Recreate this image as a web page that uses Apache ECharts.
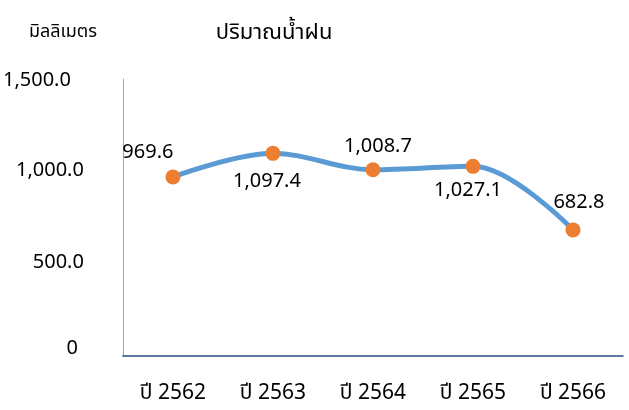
<!DOCTYPE html>
<html><head><meta charset="utf-8">
<script src="https://cdn.jsdelivr.net/npm/echarts@6/dist/echarts.min.js"></script>
<style>html,body{margin:0;padding:0;background:#fff}#c{width:629px;height:410px}</style>
</head><body><div id="c"></div>
<script>
const categories = ['ปี 2562','ปี 2563','ปี 2564','ปี 2565','ปี 2566'];
const rainfall = [969.6, 1097.4, 1008.7, 1027.1, 682.8];
const yTicks = [0, 500, 1000, 1500];
const titleText = 'ปริมาณน้ำฝน';
const unitText = 'มิลลิเมตร';
// label placement style per point
const labelStyles = [
  {position:'top', offset:[-25,5]},
  {position:'bottom', offset:[-6,-2]},
  {position:'top', offset:[5,6]},
  {position:'bottom', offset:[-5,-6]},
  {position:'top', offset:[6,2]}
];
const FONT = '"Noto Sans","Noto Sans Thai",Tahoma,sans-serif';
const fmt = v => v.toLocaleString('en-US',{minimumFractionDigits:1,maximumFractionDigits:1});
const chart = echarts.init(document.getElementById('c'));
chart.setOption({
  animation:false,
  textStyle:{fontFamily:FONT},
  title:[
    {text:titleText,left:269,top:28,textAlign:'center',textVerticalAlign:'middle',
     textStyle:{fontSize:22,fontWeight:'normal',color:'#000',fontFamily:FONT}},
    {text:unitText,left:58,top:27,textAlign:'center',textVerticalAlign:'middle',
     textStyle:{fontSize:18,fontWeight:'normal',color:'#000',fontFamily:FONT}}
  ],
  grid:{left:122,right:6,top:79,bottom:54,containLabel:false},
  xAxis:{type:'category',data:categories,boundaryGap:true,
    axisLine:{lineStyle:{color:'#2F4A7F',width:1.5}},axisTick:{show:false},
    axisLabel:{margin:27,fontSize:21,color:'#000',fontFamily:FONT}},
  yAxis:{type:'value',min:yTicks[0],max:yTicks[yTicks.length-1],interval:500,
    axisLine:{show:true,lineStyle:{color:'#A6A6A6',width:1}},axisTick:{show:false},
    splitLine:{show:false},
    axisLabel:{margin:39,color:'#000',fontSize:20,fontFamily:FONT,
      formatter:v=> v===1500?'{p|'+fmt(v)+'}': v===0?'{z|0}':'{n|'+fmt(v)+'}',
      rich:{
        n:{fontSize:20,color:'#000',fontFamily:FONT,padding:[0,0,2,0]},
        p:{fontSize:20,color:'#000',fontFamily:FONT,padding:[2,13,0,0]},
        z:{fontSize:20,color:'#000',fontFamily:FONT,padding:[0,6,16,0]}
      }}},
  series:[{type:'line',smooth:0.35,
    data:rainfall.map((v,i)=>({value:v,label:labelStyles[i]})),
    lineStyle:{color:'#5B9BD5',width:5},
    itemStyle:{color:'#ED7D31'},symbol:'circle',symbolSize:15,
    label:{show:true,formatter:p=>fmt(p.value),fontSize:20,color:'#000',fontFamily:FONT,distance:12}
  }]
});
</script></body></html>
